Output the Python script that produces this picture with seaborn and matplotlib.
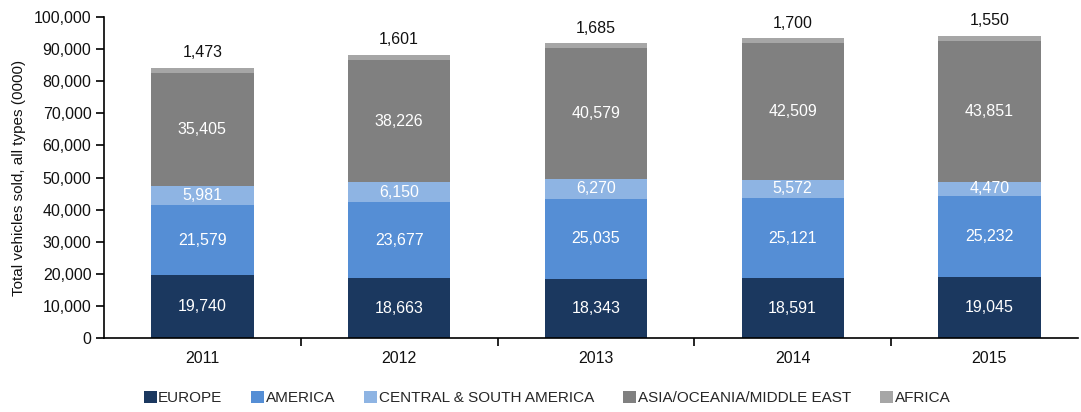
import matplotlib
matplotlib.use("Agg")
import matplotlib.pyplot as plt
import seaborn as sns
import numpy as np
from matplotlib.patches import Patch
from matplotlib.ticker import FuncFormatter, FixedLocator

years = ["2011", "2012", "2013", "2014", "2015"]
europe = [19740, 18663, 18343, 18591, 19045]
america = [21579, 23677, 25035, 25121, 25232]
csa = [5981, 6150, 6270, 5572, 4470]
asia = [35405, 38226, 40579, 42509, 43851]
africa = [1473, 1601, 1685, 1700, 1550]

series = ["EUROPE", "AMERICA", "CENTRAL & SOUTH AMERICA", "ASIA/OCEANIA/MIDDLE EAST", "AFRICA"]
values = [europe, america, csa, asia, africa]
colors = ["#1b385f", "#558ed5", "#8eb4e3", "#808080", "#a6a6a6"]

sns.set_theme(style="white")
plt.rcParams["font.family"] = ["Liberation Sans Narrow", "Liberation Sans", "DejaVu Sans"]

FS = 11

fig = plt.figure(figsize=(10.81, 4.12), dpi=100)
ax = fig.add_axes([0.0962, 0.1796, 0.901, 0.779])

bottom = np.zeros(len(years))
for name, vals, col in zip(series, values, colors):
    sns.barplot(x=years, y=vals, bottom=bottom, color=col, width=0.52,
                ax=ax, saturation=1, edgecolor="none", linewidth=0)
    for i, v in enumerate(vals):
        if name == "AFRICA":
            ax.text(i, bottom[i] + v + 2300, f"{v:,}", ha="center", va="bottom",
                    fontsize=FS + 0.5, color="#111111")
        else:
            ax.text(i, bottom[i] + v / 2, f"{v:,}", ha="center", va="center",
                    fontsize=FS + 0.5, color="white")
    bottom = bottom + np.array(vals)

ax.set_ylim(0, 100000)
ax.set_xlim(-0.5, 4.45)
ax.set_yticks(np.arange(0, 100001, 10000))
ax.yaxis.set_major_formatter(FuncFormatter(lambda v, p: f"{int(v):,}"))
ax.set_ylabel("Total vehicles sold, all types (0000)", fontsize=FS, color="#111111", labelpad=6)
ax.set_xlabel("")

for s in ["top", "right"]:
    ax.spines[s].set_visible(False)
for s in ["left", "bottom"]:
    ax.spines[s].set_color("black")
    ax.spines[s].set_linewidth(1.2)

ax.tick_params(axis="y", which="major", direction="out", length=6, width=1.2,
               color="black", labelsize=FS + 0.5, labelcolor="#111111", left=True, pad=3)
ax.tick_params(axis="x", which="major", length=0, labelsize=FS + 0.5, labelcolor="#111111", pad=9)
ax.xaxis.set_minor_locator(FixedLocator([0.5, 1.5, 2.5, 3.5]))
ax.tick_params(axis="x", which="minor", direction="out", length=6, width=1.2,
               color="black", bottom=True)

handles = [Patch(facecolor=c, edgecolor="none", label=n) for n, c in zip(series, colors)]
fig.legend(handles=handles, loc="center", bbox_to_anchor=(0.506, 0.034), ncol=5,
           frameon=False, fontsize=FS, handlelength=0.85, handleheight=0.85,
           handletextpad=0.1, columnspacing=1.9)

fig.savefig("out.png", dpi=100)
